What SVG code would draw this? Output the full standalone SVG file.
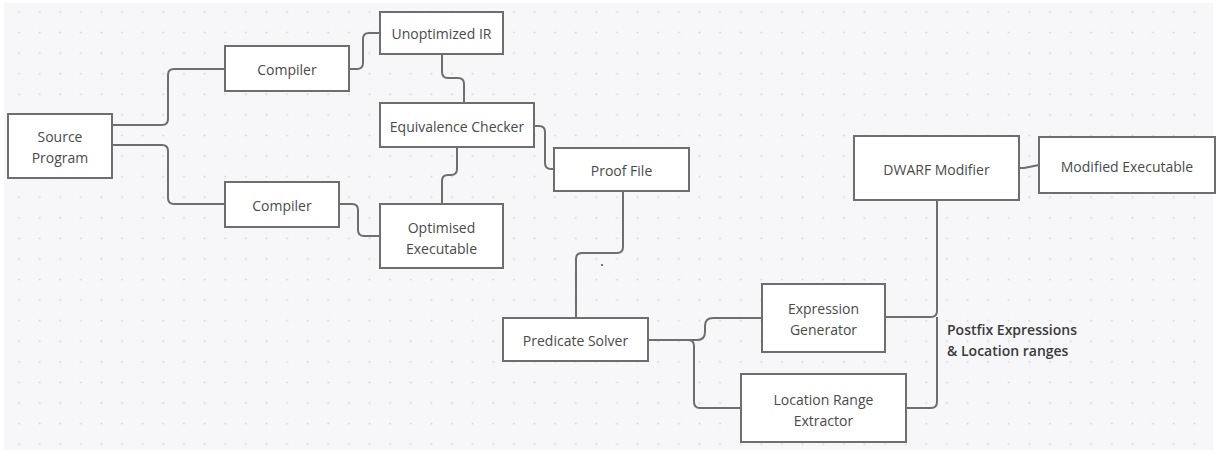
<svg xmlns="http://www.w3.org/2000/svg" width="1217" height="453" viewBox="0 0 1217 453">
<defs>
<pattern id="dots" patternUnits="userSpaceOnUse" x="8.7" y="1.7" width="20.62" height="20.58">
<circle cx="10.31" cy="10.29" r="1.1" fill="#d9d9dd"/>
</pattern>
<style>
.n rect{fill:#ffffff;stroke:#6e6e6e;stroke-width:2}
.n text{font-family:"Open Sans","Noto Sans",sans-serif;font-size:14px;fill:#4a4a4a;text-anchor:middle;dominant-baseline:central}
#connectors path{fill:none;stroke:#6e6e6e;stroke-width:2}
.lbl{font-family:"Open Sans","Noto Sans",sans-serif;font-size:14px;font-weight:600;fill:#3a3a3a}
</style>
</defs>
<rect x="0" y="0" width="1217" height="453" fill="#ffffff"/>
<rect x="4" y="3" width="1209" height="447" fill="#f7f7f9"/>
<rect x="4" y="3" width="1209" height="447" fill="url(#dots)"/>
<circle cx="602" cy="265" r="1.1" fill="#555"/>
<g id="connectors">
<path d="M112,125 H162 Q168,125 168,119 V75 Q168,69 174,69 H225"/>
<path d="M112,145 H162 Q168,145 168,151 V198 Q168,204 174,204 H225"/>
<path d="M349,69 H357 Q363,69 363,63 V39 Q363,33 369,33 H380"/>
<path d="M442,54 V72 Q442,78 448,78 H458 Q464,78 464,84 V103"/>
<path d="M457,147 V169 Q457,175 451,175 H448 Q442,175 442,181 V204"/>
<path d="M339,204 H352 Q358,204 358,210 V230 Q358,236 364,236 H380"/>
<path d="M534,126 H539 Q545,126 545,132 V163 Q545,169 551,169 H554"/>
<path d="M623,191 V247 Q623,253 617,253 H582 Q576,253 576,259 V318"/>
<path d="M648,340 H697 Q705,340 705,332 V326 Q705,318 713,318 H762"/>
<path d="M648,340 H688 Q694,340 694,346 V402 Q694,408 700,408 H741"/>
<path d="M885,317 H931 Q937,317 937,311 V200"/>
<path d="M906,408 H931 Q937,408 937,402 V317"/>
<path d="M1019,168 H1024 L1039,165"/>
</g>
<g id="source-program" class="n"><rect x="8" y="114" width="104" height="64"/><text x="60" y="136">Source</text><text x="60" y="157">Program</text></g>
<g id="compiler-top" class="n"><rect x="225" y="46" width="124" height="45"/><text x="287" y="69">Compiler</text></g>
<g id="compiler-bottom" class="n"><rect x="225" y="182" width="114" height="45"/><text x="282" y="205">Compiler</text></g>
<g id="unoptimized-ir" class="n"><rect x="380" y="12" width="123" height="42"/><text x="441.5" y="33">Unoptimized IR</text></g>
<g id="equivalence-checker" class="n"><rect x="380" y="103" width="154" height="44"/><text x="457" y="126">Equivalence Checker</text></g>
<g id="proof-file" class="n"><rect x="554" y="148" width="135" height="43"/><text x="621.5" y="170">Proof File</text></g>
<g id="optimised-executable" class="n"><rect x="380" y="204" width="123" height="64"/><text x="441.5" y="227">Optimised</text><text x="441.5" y="248">Executable</text></g>
<g id="predicate-solver" class="n"><rect x="503" y="318" width="145" height="43"/><text x="575.5" y="340">Predicate Solver</text></g>
<g id="expression-generator" class="n"><rect x="762" y="284" width="123" height="68"/><text x="823.5" y="308">Expression</text><text x="823.5" y="329">Generator</text></g>
<g id="location-range-extractor" class="n"><rect x="741" y="374" width="165" height="68"/><text x="823.5" y="399">Location Range</text><text x="823.5" y="420">Extractor</text></g>
<g id="dwarf-modifier" class="n"><rect x="854" y="136" width="165" height="64"/><text x="936.5" y="169">DWARF Modifier</text></g>
<g id="modified-executable" class="n"><rect x="1039" y="137" width="176" height="56"/><text x="1127" y="166">Modified Executable</text></g>
<text class="lbl" x="947" y="335">Postfix Expressions</text>
<text class="lbl" x="947" y="356">&amp; Location ranges</text>
</svg>
